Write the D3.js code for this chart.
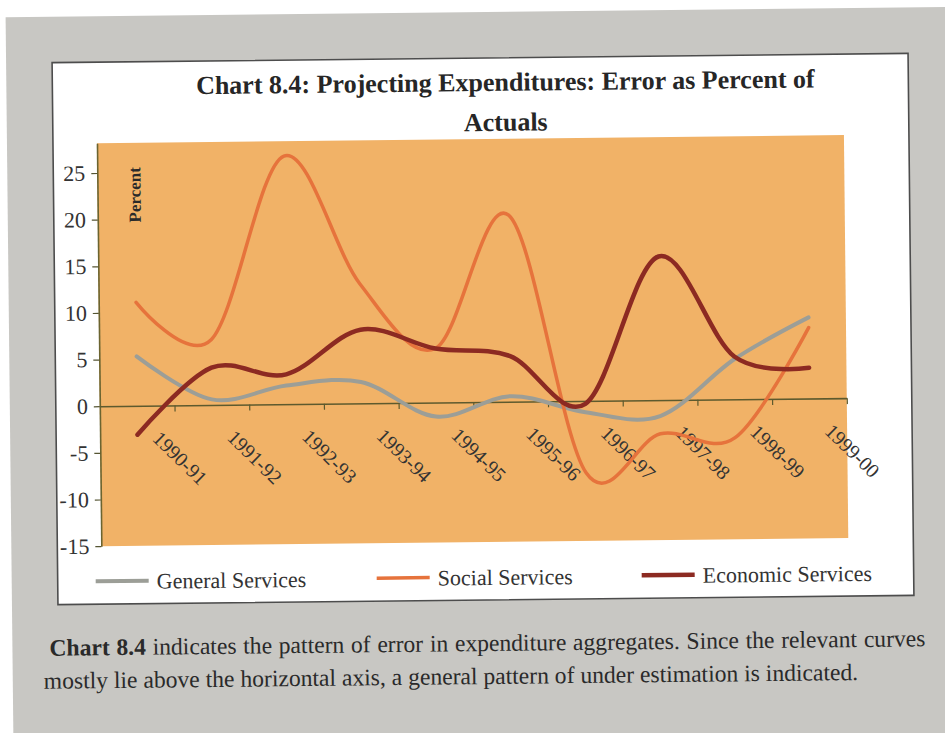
<!DOCTYPE html>
<html>
<head>
<meta charset="utf-8">
<script src="https://cdn.jsdelivr.net/npm/d3@7"></script>
<style>
  html, body { margin: 0; padding: 0; background: #ffffff; }
  svg { display: block; }
</style>
</head>
<body>
<svg id="chart" width="945" height="733"></svg>
<script>
// ---- data ----
const categories = ["1990-91","1991-92","1992-93","1993-94","1994-95","1995-96","1996-97","1997-98","1998-99","1999-00"];
const generalServices  = [5.3, 0.6, 2.0, 2.3, -1.5, 0.6, -1.2, -1.7, 4.3, 8.7];
const socialServices   = [11.1, 7.0, 26.6, 12.8, 5.8, 20.0, -7.7, -3.6, -4.1, 7.6];
const economicServices = [-3.1, 4.0, 3.2, 7.9, 5.8, 4.9, -0.3, 15.4, 4.6, 3.3];
const yTicks = [-15, -10, -5, 0, 5, 10, 15, 20, 25];
const seriesNames = ["General Services", "Social Services", "Economic Services"];
const titleLines = ["Chart 8.4: Projecting Expenditures: Error as Percent of", "Actuals"];
const yAxisTitle = "Percent";
const captionBold = "Chart 8.4";
const captionLine1 = "indicates the pattern of error in expenditure aggregates. Since the relevant curves";
const captionLine2 = "mostly lie above the horizontal axis, a general pattern of under estimation is indicated.";

// ---- styling ----
const colors = ["#9c9e97", "#e6733c", "#8c2a22"];
const widths = [4, 3.5, 4.5];
const serif = "'Liberation Serif', 'Times New Roman', serif";

const svg = d3.select("#chart");
const root = svg.append("g").attr("transform", "rotate(-0.62, 483, 329)");

// page gray
root.append("rect").attr("x", 9).attr("y", 12).attr("width", 980).attr("height", 760).attr("fill", "#c8c7c3");
// white chart box
root.append("rect").attr("x", 55).attr("y", 58).attr("width", 856).attr("height", 542)
  .attr("fill", "#ffffff").attr("stroke", "#4d4d4d").attr("stroke-width", 1.6);

// plot area
const plot = { left: 99, right: 846, top: 139, bottom: 542 };
root.append("rect").attr("x", plot.left).attr("y", plot.top)
  .attr("width", plot.right - plot.left).attr("height", plot.bottom - plot.top)
  .attr("fill", "#f1b267");

const x = d3.scaleBand().domain(categories).range([plot.left, plot.right]).padding(0);
const xb = d3.scaleLinear().domain([0, categories.length]).range([plot.left, plot.right]);
const y = d3.scaleLinear().domain([-15, 28.2]).range([plot.bottom, plot.top]);

// y axis
const yAxis = root.append("g").attr("transform", `translate(${plot.left},0)`)
  .call(d3.axisLeft(y).tickValues(yTicks).tickSize(6).tickSizeOuter(0).tickPadding(6).tickFormat(d => String(d)));
yAxis.select(".domain").attr("stroke", "#6b6430").attr("stroke-width", 1.6);
yAxis.selectAll(".tick line").attr("stroke", "#555533").attr("stroke-width", 1.2);
yAxis.selectAll(".tick text").attr("font-family", serif).attr("font-size", 22).attr("fill", "#333");

// x axis at zero, ticks on category boundaries
const xAxis = root.append("g").attr("transform", `translate(0,${y(0)})`)
  .call(d3.axisBottom(xb).tickValues(d3.range(1, categories.length + 1)).tickSize(6).tickSizeOuter(0).tickFormat(""));
xAxis.select(".domain").attr("stroke", "#5d5a2e").attr("stroke-width", 1.6);
xAxis.selectAll(".tick line").attr("stroke", "#5d5a2e").attr("stroke-width", 1.2);

// category labels rotated
root.append("g").selectAll("text").data(categories).join("text")
  .attr("transform", d => `translate(${x(d) + x.bandwidth() / 2 + 14},${y(0) + 34}) rotate(45)`)
  .attr("font-family", serif).attr("font-size", 20).attr("fill", "#333")
  .text(d => d);

// y axis title
root.append("text")
  .attr("transform", `translate(142,191) rotate(-90)`)
  .attr("text-anchor", "middle").attr("font-family", serif).attr("font-weight", "bold")
  .attr("font-size", 17).attr("fill", "#2a2a2a").text(yAxisTitle);

// lines
const allSeries = [generalServices, socialServices, economicServices];
const line = d3.line()
  .x((d, i) => x(categories[i]) + x.bandwidth() / 2)
  .y(d => y(d))
  .curve(d3.curveCatmullRom.alpha(0));
root.append("g").selectAll("path").data(allSeries).join("path")
  .attr("d", d => line(d)).attr("fill", "none")
  .attr("stroke", (d, i) => colors[i]).attr("stroke-width", (d, i) => widths[i])
  .attr("stroke-linejoin", "round").attr("stroke-linecap", "round");

// title
root.append("g").selectAll("text").data(titleLines).join("text")
  .attr("x", 508).attr("y", (d, i) => 91 + i * 40)
  .attr("text-anchor", "middle").attr("font-family", serif).attr("font-weight", "bold")
  .attr("font-size", 26).attr("fill", "#262626").text(d => d);

// legend
const legendX = [93, 374, 639];
const legendY = 577;
const lg = root.append("g");
seriesNames.forEach((name, i) => {
  lg.append("line").attr("x1", legendX[i]).attr("x2", legendX[i] + 53)
    .attr("y1", legendY).attr("y2", legendY)
    .attr("stroke", colors[i]).attr("stroke-width", widths[i]);
  lg.append("text").attr("x", legendX[i] + 61).attr("y", legendY + 8)
    .attr("font-family", serif).attr("font-size", 22).attr("fill", "#333").text(name);
});

// caption below (line 1 justified)
const capFill = "#2a2a2a";
const capSize = 23.6;
const t1 = root.append("text").attr("x", 46).attr("y", 651)
  .attr("font-family", serif).attr("font-size", capSize).attr("fill", capFill);
t1.append("tspan").attr("font-weight", "bold").text(captionBold);
t1.append("tspan").text(" " + captionLine1);
{
  const w = t1.node().getComputedTextLength();
  const full = captionBold + " " + captionLine1;
  const spaces = (full.match(/ /g) || []).length;
  t1.attr("word-spacing", Math.max(0, (922 - 46 - w) / spaces));
}
root.append("text").attr("x", 40).attr("y", 684)
  .attr("font-family", serif).attr("font-size", capSize).attr("fill", capFill)
  .text(captionLine2);
</script>
</body>
</html>
